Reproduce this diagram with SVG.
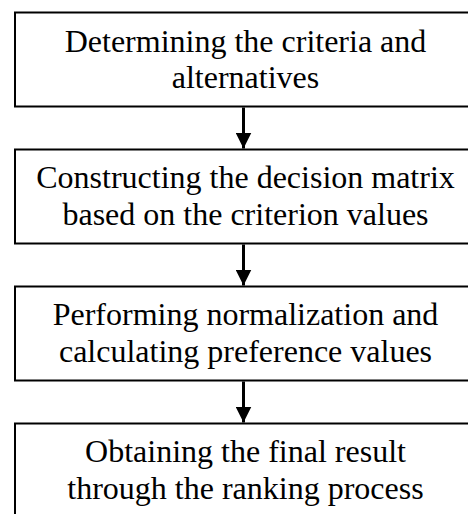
<svg xmlns="http://www.w3.org/2000/svg" width="468" height="514" viewBox="0 0 468 514">
<style>
.box{fill:#fff;stroke:#000;stroke-width:2}
.c{stroke:#000;stroke-width:3;fill:none}
</style>
<defs>
<marker id="ah" markerUnits="userSpaceOnUse" markerWidth="16" markerHeight="16" refX="16" refY="8" orient="auto">
<path d="M0,0 L16,8 L0,16 Z" fill="#000"/>
</marker>
</defs>
<rect width="468" height="514" fill="#fff"/>
<g font-family="Liberation Serif, Times New Roman, serif" font-size="32" text-anchor="middle" fill="#000">
<g id="n1"><rect class="box" x="15" y="12.5" width="460" height="94"/>
<text x="245.5" y="51.5">Determining the criteria and</text>
<text x="245.5" y="88">alternatives</text></g>
<g id="n2"><rect class="box" x="15" y="149.5" width="460" height="94"/>
<text x="245.5" y="188">Constructing the decision matrix</text>
<text x="245.5" y="224.5">based on the criterion values</text></g>
<g id="n3"><rect class="box" x="15" y="286.5" width="460" height="94"/>
<text x="245.5" y="325">Performing normalization and</text>
<text x="245.5" y="361.5">calculating preference values</text></g>
<g id="n4"><rect class="box" x="15" y="423.5" width="460" height="94"/>
<text x="245.5" y="462">Obtaining the final result</text>
<text x="245.5" y="498.5">through the ranking process</text></g>
</g>
<g id="connectors">
<line class="c" x1="243.5" y1="107.5" x2="243.5" y2="148.5" marker-end="url(#ah)"/>
<line class="c" x1="243.5" y1="244.5" x2="243.5" y2="285.5" marker-end="url(#ah)"/>
<line class="c" x1="243.5" y1="381.5" x2="243.5" y2="422.5" marker-end="url(#ah)"/>
</g>
</svg>
